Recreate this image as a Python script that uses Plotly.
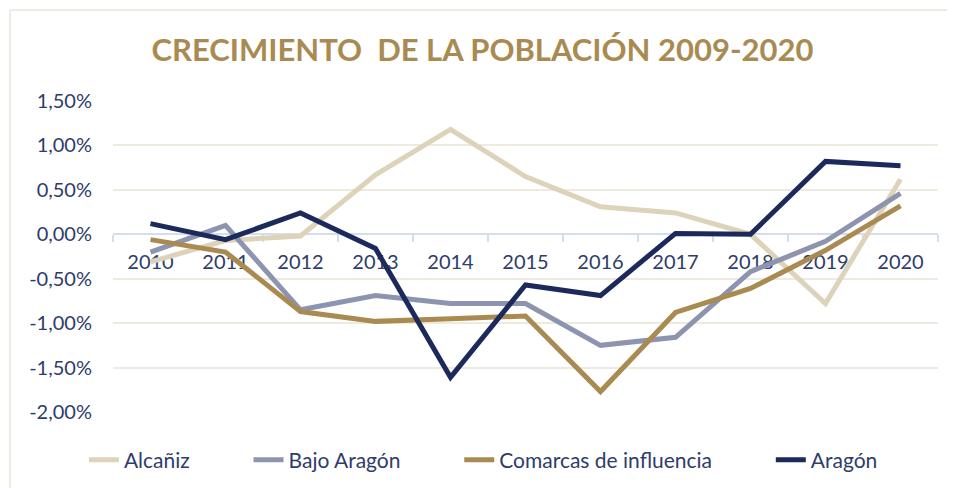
import plotly.graph_objects as go

years = ["2010", "2011", "2012", "2013", "2014", "2015", "2016", "2017", "2018", "2019", "2020"]

alcaniz = [-0.31, -0.07, -0.02, 0.67, 1.18, 0.65, 0.31, 0.24, 0.00, -0.78, 0.62]
bajo_aragon = [-0.20, 0.10, -0.85, -0.69, -0.78, -0.78, -1.25, -1.16, -0.42, -0.08, 0.46]
comarcas = [-0.06, -0.20, -0.87, -0.98, -0.95, -0.92, -1.77, -0.88, -0.61, -0.18, 0.32]
aragon = [0.12, -0.06, 0.24, -0.16, -1.61, -0.57, -0.69, 0.01, 0.00, 0.82, 0.77]

series_names = ["Alcañiz", "Bajo Aragón", "Comarcas de influencia", "Aragón"]
series_values = [alcaniz, bajo_aragon, comarcas, aragon]
series_colors = ["#DDD3BA", "#8C94AF", "#A98B52", "#1B2A5B"]

y_tickvals = [1.5, 1.0, 0.5, 0.0, -0.5, -1.0, -1.5, -2.0]
y_ticktext = ["1,50%", "1,00%", "0,50%", "0,00%", "-0,50%", "-1,00%", "-1,50%", "-2,00%"]

y_min, y_max = -2.0, 1.5

pad = "\u00a0" * 10

fig = go.Figure()
for i, (name, vals, col) in enumerate(zip(series_names, series_values, series_colors)):
    fig.add_trace(go.Scatter(
        x=years, y=vals, name=name + (pad if i < len(series_names) - 1 else ""),
        mode="lines",
        line=dict(color=col, width=5, shape="linear"),
    ))

label_color = "#2E3C6B"

# the page body adds an 8px offset, so the figure is 947x480
W, H = 947, 480
L, R, T, B = 105, 17, 93, 76.3
plot_w = W - L - R
plot_h = H - T - B

fig.update_layout(
    width=W, height=H,
    paper_bgcolor="white", plot_bgcolor="white",
    margin=dict(l=L, r=R, t=T, b=B, autoexpand=False),
    title=dict(
        text="<b>CRECIMIENTO  DE LA POBLACIÓN 2009-2020</b>",
        x=0.501, xanchor="center", y=0.9125, yanchor="middle",
        font=dict(family="Lato", size=31, color="#A98B52"),
    ),
    font=dict(family="Lato", size=20, color=label_color),
    legend=dict(
        orientation="h", x=0.449, xanchor="center", y=-0.155, yanchor="middle",
        font=dict(family="Lato", size=21, color=label_color),
        bgcolor="rgba(0,0,0,0)",
    ),
    xaxis=dict(
        type="category", range=[-0.5, len(years) - 0.5],
        anchor="free", position=(0 - y_min) / (y_max - y_min),
        showline=True, linecolor="#D5DEEF", linewidth=2,
        ticks="outside", ticklen=7, tickwidth=2, tickcolor="#D5DEEF",
        tickson="boundaries", showgrid=False,
        ticklabelstandoff=10,
        tickfont=dict(family="Lato", size=20, color=label_color),
        layer="below traces",
    ),
    yaxis=dict(
        range=[y_min, y_max],
        tickvals=y_tickvals, ticktext=y_ticktext,
        showgrid=True, gridcolor="#EEEADF", gridwidth=2,
        zeroline=False, showline=False, ticks="",
        ticklabelstandoff=20,
        tickfont=dict(family="Lato", size=20, color=label_color),
        layer="below traces",
    ),
    shapes=[
        dict(type="line", xref="paper", yref="paper",
             x0=(2 - L) / plot_w, x1=1.05, y0=(T + plot_h - 2) / plot_h, y1=(T + plot_h - 2) / plot_h,
             line=dict(color="#F0EBE0", width=2)),
        dict(type="line", xref="paper", yref="paper",
             x0=(2 - L) / plot_w, x1=(2 - L) / plot_w, y0=(T + plot_h - 2) / plot_h, y1=-0.4,
             line=dict(color="#F0EBE0", width=2)),
    ],
)

fig.write_html("out.html")
